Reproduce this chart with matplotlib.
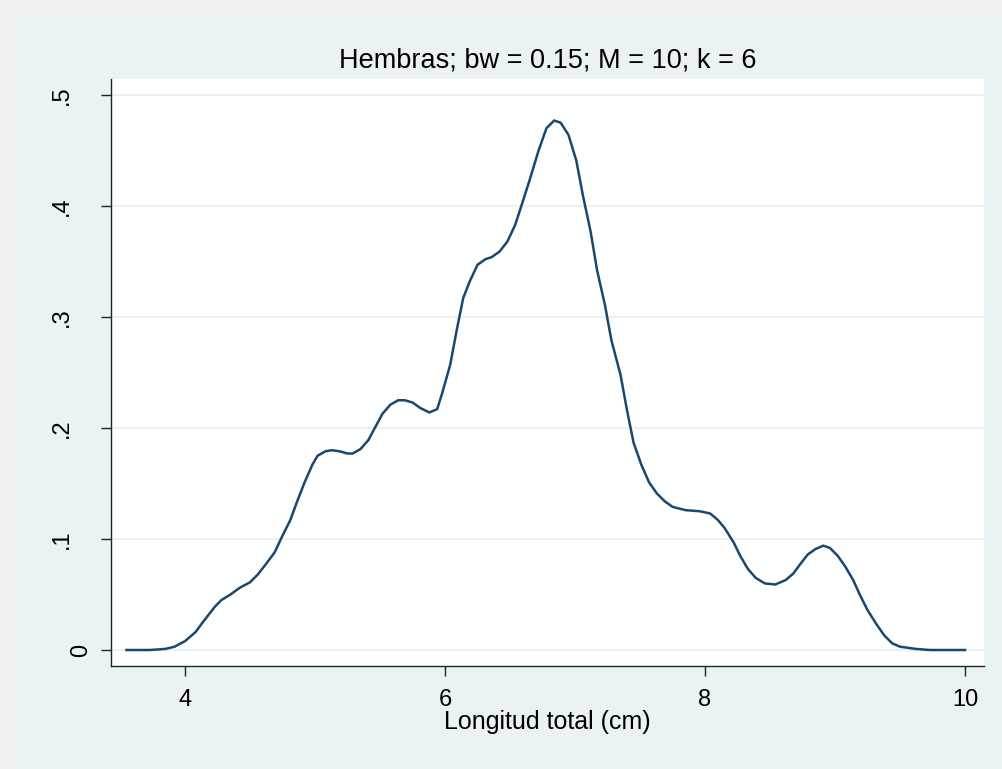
import numpy as np
import matplotlib
matplotlib.use('Agg')
from matplotlib import pyplot as plt
from matplotlib.patches import Rectangle
from matplotlib.transforms import blended_transform_factory

# density estimate
length = [3.55, 3.73, 3.85, 3.92, 4.00, 4.08, 4.15, 4.23, 4.28, 4.35, 4.42, 4.50,
          4.56, 4.62, 4.69, 4.75, 4.81, 4.86, 4.92, 4.98, 5.02, 5.08, 5.13, 5.19,
          5.25, 5.29, 5.35, 5.41, 5.46, 5.52, 5.58, 5.64, 5.69, 5.75, 5.81, 5.88,
          5.94, 5.98, 6.04, 6.09, 6.14, 6.19, 6.25, 6.31, 6.36, 6.42, 6.48, 6.54,
          6.59, 6.65, 6.72, 6.78, 6.84, 6.89, 6.95, 7.01, 7.06, 7.12, 7.17, 7.23,
          7.28, 7.35, 7.40, 7.45, 7.51, 7.57, 7.63, 7.69, 7.75, 7.85, 7.96, 8.04,
          8.10, 8.15, 8.22, 8.27, 8.33, 8.39, 8.46, 8.54, 8.62, 8.68, 8.73, 8.79,
          8.85, 8.91, 8.96, 9.02, 9.08, 9.14, 9.19, 9.25, 9.32, 9.38, 9.44, 9.50,
          9.62, 9.73, 10.0]
density = [0.000, 0.000, 0.001, 0.003, 0.008, 0.016, 0.027, 0.039, 0.045, 0.050, 0.056, 0.061,
           0.068, 0.077, 0.088, 0.103, 0.117, 0.133, 0.151, 0.167, 0.175, 0.179, 0.180, 0.179,
           0.177, 0.177, 0.181, 0.189, 0.200, 0.213, 0.221, 0.225, 0.225, 0.223, 0.218, 0.214,
           0.217, 0.232, 0.257, 0.288, 0.317, 0.332, 0.347, 0.352, 0.354, 0.359, 0.368, 0.383,
           0.401, 0.423, 0.450, 0.470, 0.477, 0.475, 0.464, 0.441, 0.410, 0.377, 0.342, 0.311,
           0.279, 0.248, 0.216, 0.187, 0.167, 0.151, 0.141, 0.134, 0.129, 0.126, 0.125, 0.123,
           0.117, 0.110, 0.097, 0.085, 0.073, 0.065, 0.060, 0.059, 0.063, 0.069, 0.077, 0.086,
           0.091, 0.094, 0.092, 0.085, 0.075, 0.063, 0.050, 0.036, 0.023, 0.013, 0.006, 0.003,
           0.001, 0.000, 0.000]

xticks = [4, 6, 8, 10]
yticks = [0, 0.1, 0.2, 0.3, 0.4, 0.5]
ytick_labels = ['0', '.1', '.2', '.3', '.4', '.5']
title = 'Hembras; bw = 0.15; M = 10; k = 6'
xlabel = 'Longitud total (cm)'

plt.rcParams['font.family'] = ['Liberation Sans', 'DejaVu Sans']

fig = plt.figure(figsize=(10.02, 7.69), dpi=100, facecolor='#eaf2f3')
# faint shadow strips along the top and left edges
fig.patches.append(Rectangle((0, 0), 12 / 1002, 1, transform=fig.transFigure,
                             color='#f0f0f0', zorder=0))
fig.patches.append(Rectangle((0, 1 - 14 / 769), 1, 14 / 769, transform=fig.transFigure,
                             color='#f0f0f0', zorder=0))

ax = fig.add_axes([111 / 1002, 103 / 769, 873 / 1002, 587 / 769])
ax.set_facecolor('white')
ax.plot(length, density, color='#1a476f', linewidth=1.8, zorder=3)

ax.set_xlim(3.431, 10.146)
ax.set_ylim(-0.0144, 0.5144)
ax.set_xticks(xticks)
ax.set_yticks(yticks)
ax.set_yticklabels([])
ax.grid(axis='y', color='#eaf2f3', linewidth=1.6, zorder=1)
ax.set_axisbelow(True)

ax.tick_params(axis='x', length=7.5, width=1, color='#222222', labelsize=17, pad=9)
ax.tick_params(axis='y', length=7.5, width=1, color='#222222')

trans = blended_transform_factory(ax.transAxes, ax.transData)
for val, lab in zip(yticks, ytick_labels):
    xpos = -0.0344 if lab == '0' else -0.0561
    ax.text(xpos, val, lab, rotation=90, ha='center', va='center',
            fontsize=17, transform=trans)

ax.spines['top'].set_visible(False)
ax.spines['right'].set_visible(False)
for side in ['left', 'bottom']:
    ax.spines[side].set_color('#222222')
    ax.spines[side].set_linewidth(1)

ax.set_title(title, fontsize=19.5, pad=8)
ax.set_xlabel(xlabel, fontsize=18, labelpad=-1)

plt.savefig('out.png', dpi=100, facecolor=fig.get_facecolor())
